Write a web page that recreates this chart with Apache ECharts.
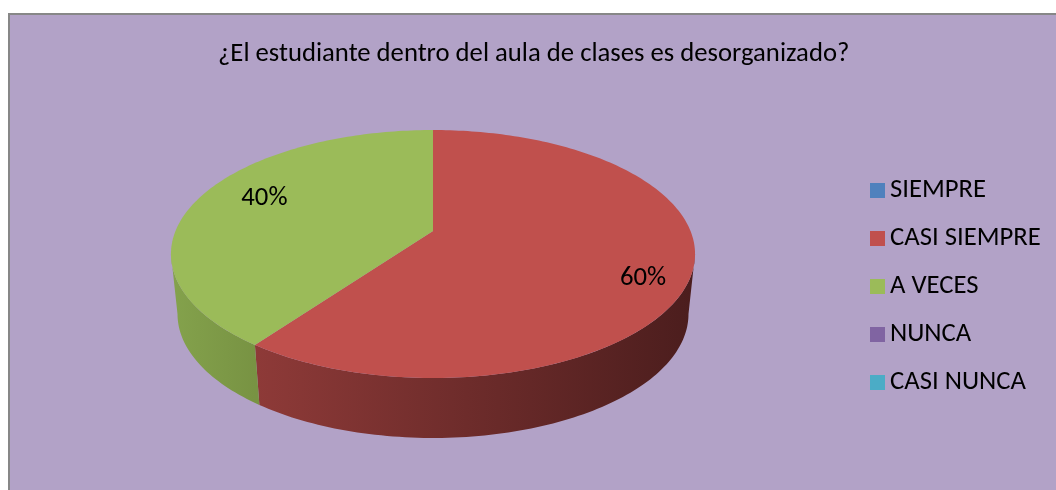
<!DOCTYPE html>
<html>
<head>
<meta charset="utf-8">
<script src="https://cdn.jsdelivr.net/npm/echarts@6/dist/echarts.min.js"></script>
<style>
  html, body { margin: 0; padding: 0; background: #fff; }
  #chart { width: 1056px; height: 490px; }
</style>
</head>
<body>
<div id="chart"></div>
<script>
var titleText = '¿El estudiante dentro del aula de clases es desorganizado?';
var categories = ['SIEMPRE', 'CASI SIEMPRE', 'A VECES', 'NUNCA', 'CASI NUNCA'];
var percents = [0, 60, 40, 0, 0];
var colors = ['#4F81BD', '#C0504D', '#9BBB59', '#8064A2', '#4BACC6'];
// side wall shading, light to dark (left to right)
var sideShades = [
  ['#3C6391', '#273F5C'],
  ['#8E3A38', '#4B1D1D'],
  ['#84A24C', '#789343'],
  ['#62497F', '#3E2E52'],
  ['#3A8598', '#245462']
];

var FONT = 'Calibri, Carlito, Lato, sans-serif';
var FS = 26.7;

// fake 3d pie geometry (perspective of a tilted disc)
var cx = 433, cy = 231;
var ax = 257.5, by = 119.7, persp = -0.1855;
var depth = 60, shrink = 0.975;

function proj(u, v) {
  var d = 1 + persp * v;
  return [cx + ax * u / d, cy + by * v / d];
}
function rim(theta, bottom) {
  var p = proj(Math.sin(theta), -Math.cos(theta));
  if (bottom) {
    p[0] = cx + (p[0] - cx) * shrink;
    p[1] += depth;
  }
  return p;
}
function arcPoints(a, b, bottom) {
  var pts = [];
  var n = Math.max(2, Math.ceil((b - a) / 0.02));
  for (var i = 0; i <= n; i++) pts.push(rim(a + (b - a) * i / n, bottom));
  return pts;
}

var total = percents.reduce(function (s, v) { return s + v; }, 0);
var visFrom = Math.acos(persp);            // silhouette on the right
var visTo = 2 * Math.PI - visFrom;         // silhouette on the left

function renderSlice(params, api) {
  var i = params.dataIndex;
  var val = percents[i];
  if (!val) return { type: 'group', children: [] };
  var before = 0;
  for (var k = 0; k < i; k++) before += percents[k];
  var a = before / total * 2 * Math.PI;
  var b = (before + val) / total * 2 * Math.PI;
  var children = [];

  // side wall, only the part facing the viewer
  var s = Math.max(a, visFrom), e = Math.min(b, visTo);
  if (s < e) {
    var pts = arcPoints(s, e, false).concat(arcPoints(s, e, true).reverse());
    children.push({
      type: 'polygon',
      z2: 1,
      shape: { points: pts },
      style: {
        fill: new echarts.graphic.LinearGradient(rim(e, false)[0], 0, rim(s, false)[0], 0, [
          { offset: 0, color: sideShades[i][0] },
          { offset: 1, color: sideShades[i][1] }
        ], true)
      }
    });
  }

  // top face
  children.push({
    type: 'polygon',
    z2: 5,
    shape: { points: [[cx, cy]].concat(arcPoints(a, b, false)) },
    style: { fill: colors[i] }
  });

  // percentage label
  var mid = (a + b) / 2;
  var lp = proj(0.77 * Math.sin(mid), -0.77 * 1.4 * Math.cos(mid));
  children.push({
    type: 'text',
    z2: 10,
    x: lp[0] + 9,
    y: lp[1] + 5,
    style: {
      text: Math.round(val / total * 100) + '%',
      fill: '#000',
      font: FS + 'px ' + FONT,
      align: 'center',
      verticalAlign: 'middle'
    }
  });
  return { type: 'group', children: children };
}

var myChart = echarts.init(document.getElementById('chart'));

var option = {
  backgroundColor: '#ffffff',
  animation: false,
  color: colors,
  graphic: [{
    type: 'rect',
    z: -10,
    shape: { x: 9, y: 14, width: 1080, height: 500 },
    style: { fill: '#B2A2C7', stroke: '#878787', lineWidth: 2 }
  }],
  title: {
    text: titleText,
    left: 213,
    top: 36,
    textStyle: { fontFamily: FONT, fontSize: FS, fontWeight: 'normal', color: '#000' }
  },
  legend: {
    orient: 'vertical',
    left: 865,
    top: 172,
    itemWidth: 15,
    itemHeight: 15,
    itemGap: 21,
    icon: 'rect',
    data: categories,
    textStyle: { fontFamily: FONT, fontSize: FS, color: '#000' }
  },
  series: [
    {
      type: 'custom',
      coordinateSystem: 'none',
      renderItem: renderSlice,
      data: percents,
      silent: true
    },
    {
      // carries the legend entries only
      type: 'pie',
      center: [-200, -200],
      radius: 1,
      silent: true,
      label: { show: false },
      labelLine: { show: false },
      data: categories.map(function (c, i) { return { name: c, value: percents[i] }; })
    }
  ]
};

myChart.setOption(option);
</script>
</body>
</html>
